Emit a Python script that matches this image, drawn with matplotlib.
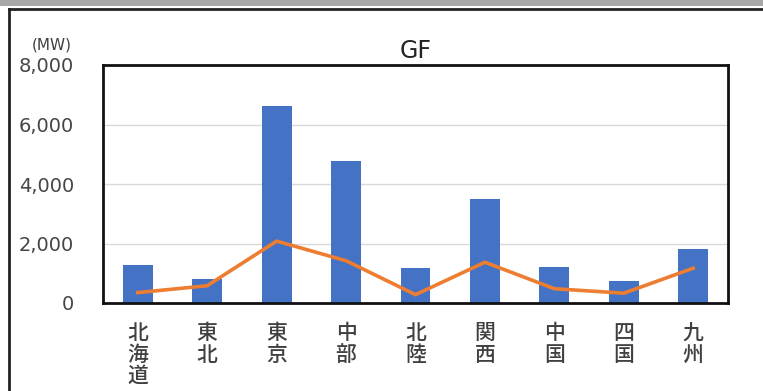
import matplotlib.pyplot as plt
from matplotlib.patches import Rectangle
from matplotlib.lines import Line2D

# regions (written vertically, one character per line)
regions = ["北海道", "東北", "東京", "中部", "北陸", "関西", "中国", "四国", "九州"]
bar_mw = [1270, 800, 6630, 4770, 1170, 3500, 1200, 730, 1800]
line_mw = [350, 580, 2080, 1420, 280, 1370, 480, 330, 1170]
yticks = [0, 2000, 4000, 6000, 8000]

W, H = 763, 391
fig = plt.figure(figsize=(W / 100, H / 100), dpi=100)

# screenshot frame: gray strip on top, black border left/top
fig.patches.append(Rectangle((0, 1 - 6 / H), 1, 6 / H, transform=fig.transFigure,
                             facecolor="#a8a8a8", edgecolor="none"))
fig.lines.append(Line2D([9 / W, 9 / W], [0, 1 - 9 / H], transform=fig.transFigure,
                        color="#222222", lw=2))
fig.lines.append(Line2D([9 / W, 1], [1 - 9 / H, 1 - 9 / H], transform=fig.transFigure,
                        color="#222222", lw=2))

left, right, top, bottom = 103, 728, 65, 303
ax = fig.add_axes([left / W, 1 - bottom / H, (right - left) / W, (bottom - top) / H])

x = range(len(regions))
ax.bar(x, bar_mw, width=0.43, color="#4472C4", zorder=2)
ax.plot(x, line_mw, color="#ED7D31", lw=2.6, zorder=3)

ax.set_xlim(-0.5, len(regions) - 0.5)
ax.set_ylim(0, 8000)
ax.set_yticks(yticks)
ax.set_yticklabels([f"{v:,}" for v in yticks], fontsize=14, color="#454545")
ax.set_xticks(list(x))
ax.set_xticklabels(["\n".join(r) for r in regions], family=["Noto Sans CJK JP"],
                   fontsize=15, color="#404040", linespacing=0.95, va="top",
                   fontweight="medium")
ax.tick_params(axis="both", length=0)
ax.tick_params(axis="y", pad=21)
ax.tick_params(axis="x", pad=14)
ax.grid(axis="y", color="#d9d9d9", lw=1, zorder=0)
for s in ax.spines.values():
    s.set_linewidth(2)
    s.set_color("#111111")

ax.set_title("GF", fontsize=17, color="#222222", pad=5)
fig.text(52 / W, 1 - 45 / H, "(MW)", fontsize=11, ha="center", va="center", color="#404040")

fig.savefig("out.png", dpi=100)
